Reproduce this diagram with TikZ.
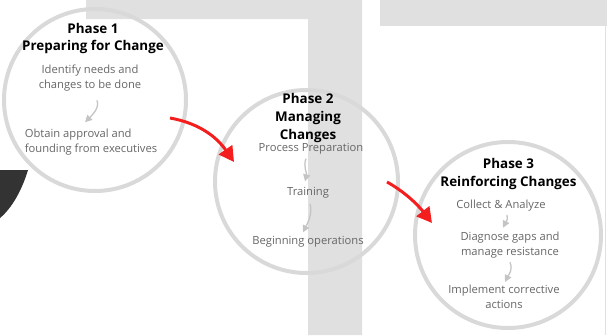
\documentclass[tikz,border=0pt]{standalone}
\usepackage{fontspec}
\setmainfont{Open Sans}
\usetikzlibrary{arrows.meta,calc}
\definecolor{bggrey}{HTML}{E0E0E0}
\definecolor{ringgrey}{HTML}{D9D9D9}
\definecolor{txtgrey}{HTML}{666666}
\definecolor{subgrey}{HTML}{C4C4C4}
\definecolor{arrred}{HTML}{F41E1E}
\definecolor{darkshape}{HTML}{333333}
\begin{document}
\begin{tikzpicture}[x=1pt,y=-1pt,
  title/.style={font=\bfseries\fontsize{13.4}{17.8}\selectfont, align=center, text=black, inner sep=0pt},
  body/.style={font=\fontsize{11.2}{15}\selectfont, align=center, text=txtgrey, inner sep=0pt},
  ring/.style={circle, draw=ringgrey, line width=4pt, inner sep=0pt},
  flow/.style={draw=arrred, line width=3pt, -{Triangle[length=15pt,width=16pt]}},
  substep/.style={draw=subgrey, line width=1.3pt, -{Triangle[length=7pt,width=7pt]}}
]
\useasboundingbox (0,0) rectangle (607,335);
% background shapes
\fill[bggrey] (86,0) -- (362,0) -- (362,335) -- (308,335) -- (308,19) -- (86,19) -- cycle;
\fill[bggrey] (380,0) rectangle (607,26);
\draw[bggrey, line width=1pt] (605.5,26) -- (605.5,335);
\fill[darkshape] (0,170) -- (28,170) .. controls (22,190) and (12,208) .. (0,218) -- cycle;

% rings
\node[ring, minimum size=182pt] (c1) at (95,100) {};
\node[ring, minimum size=183pt] (c2) at (306.5,181.5) {};
\node[ring, minimum size=186pt] (c3) at (508,235) {};

% Phase 1
\node[title] (t1) at (93,38.5) {Phase 1\\Preparing for Change};
\node[body] (p1a) at (90,78) {Identify needs and\\changes to be done};
\node[body, align=left] (p1b) at (91,142.5) {Obtain approval and\\founding from executives};

% Phase 2
\node[title] (t2) at (308,118) {Phase 2\\Managing\\Changes};
\node[body] (p2a) at (311,149) {Process Preparation};
\node[body] (p2b) at (308,193) {Training};
\node[body] (p2c) at (308,242) {Beginning operations};

% Phase 3
\node[title] (t3) at (508.5,174) {Phase 3\\Reinforcing Changes};
\node[body] (p3a) at (501,206) {Collect \& Analyze};
\node[body] (p3b) at (510,245) {Diagnose gaps and\\manage resistance};
\node[body] (p3c) at (504,297) {Implement corrective\\actions};

% sub-step arrows
\draw[substep] ($(p1a.south)+(7,9)$) .. controls +(3,8) and +(6,-6) .. ($(p1b.north)+(-6,-7)$);
\draw[substep] ($(p2a.south)+(-5,4)$) .. controls +(-3,8) and +(2,-8) .. ($(p2b.north)+(-3,-6)$);
\draw[substep] ($(p2b.south)+(2,5)$) .. controls +(3,10) and +(4,-8) .. ($(p2c.north)+(-5,-4)$);
\draw[substep] ($(p3a.south)+(6,3)$) .. controls +(1,6) and +(3,-6) .. ($(p3b.north)+(-7,-4)$);
\draw[substep] ($(p3b.south)+(0,4)$) .. controls +(3,8) and +(4,-8) .. ($(p3c.north)+(1,-3)$);

% phase flow arrows
\draw[flow] ($(c1.center)+(75,18)$) .. controls +(28,5) and +(-18,-26) .. ($(c2.center)+(-72.5,-19.5)$);
\draw[flow] ($(c2.center)+(80.5,0.5)$) .. controls +(18,10) and +(-14,-18) .. ($(c3.center)+(-76,-12)$);
\end{tikzpicture}
\end{document}
